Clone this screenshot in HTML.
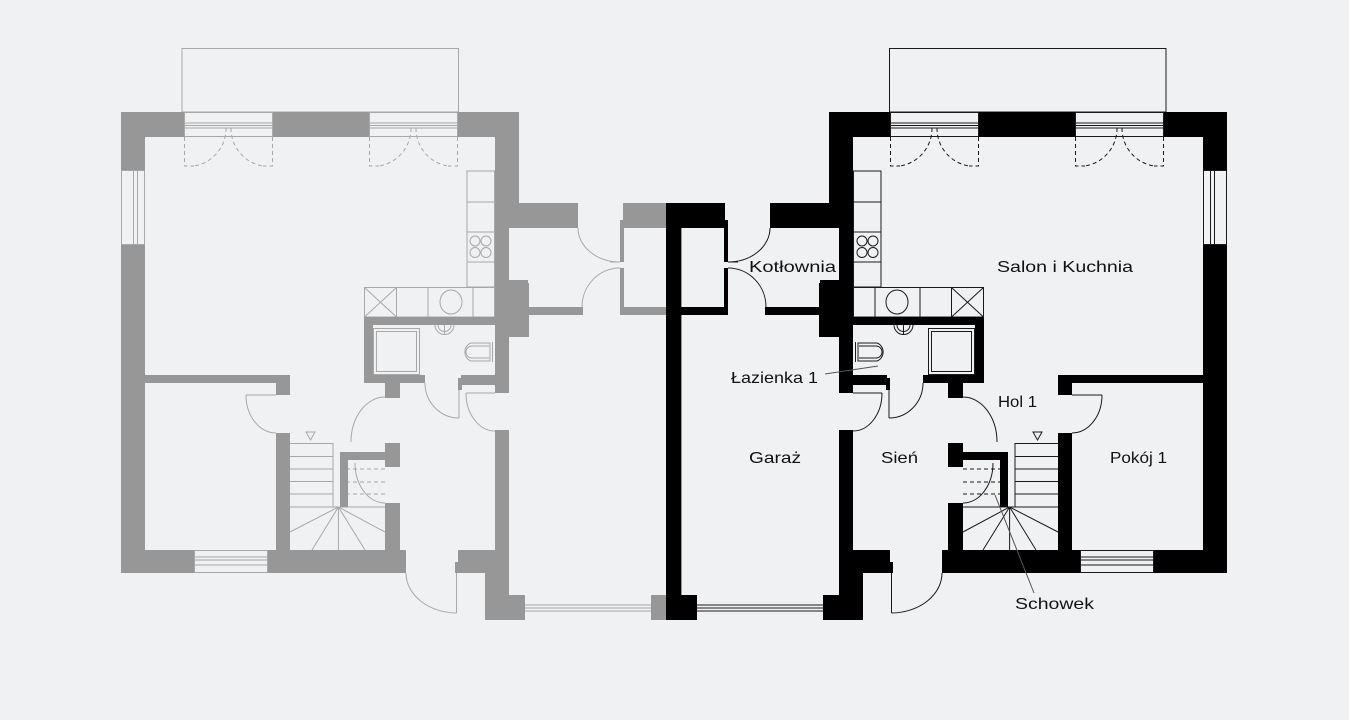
<!DOCTYPE html>
<html><head><meta charset="utf-8"><style>
html,body{margin:0;padding:0;background:#f0f1f3;}
svg{display:block}
text{font-family:"Liberation Sans",sans-serif;font-size:16px;fill:#111}
</style></head><body>
<svg width="1349" height="720" viewBox="0 0 1349 720" xmlns="http://www.w3.org/2000/svg">
<defs>
<g id="plan">
 <g fill="none" stroke="var(--ln)" stroke-width="1">
  <rect x="889.5" y="48.5" width="276.5" height="63.5"/>
  <rect x="890.5" y="112.5" width="88" height="24"/>
  <line x1="890" y1="123" x2="979" y2="123"/><line x1="890" y1="125.5" x2="979" y2="125.5"/><line x1="890" y1="128" x2="979" y2="128"/>
  <rect x="1075.5" y="112.5" width="88" height="24"/>
  <line x1="1075" y1="123" x2="1164" y2="123"/><line x1="1075" y1="125.5" x2="1164" y2="125.5"/><line x1="1075" y1="128" x2="1164" y2="128"/>
  <g stroke-dasharray="4 3">
   <path d="M890.5 137 V166 H900 M932 128 A 38 38 0 0 1 900 166"/>
   <path d="M978.5 137 V166 H969 M937 128 A 38 38 0 0 0 969 166"/>
   <path d="M1075.5 137 V166 H1085 M1117 128 A 38 38 0 0 1 1085 166"/>
   <path d="M1163.5 137 V166 H1154 M1122 128 A 38 38 0 0 0 1154 166"/>
  </g>
  <rect x="1203.5" y="170.5" width="23" height="74"/>
  <line x1="1210.5" y1="170" x2="1210.5" y2="245"/><line x1="1214.5" y1="170" x2="1214.5" y2="245"/>
  <rect x="1080.5" y="550.5" width="73" height="22"/>
  <line x1="1080" y1="557" x2="1154" y2="557"/><line x1="1080" y1="560" x2="1154" y2="560"/><line x1="1080" y1="565" x2="1154" y2="565"/>
  <line x1="697" y1="605" x2="823" y2="605"/><line x1="697" y1="608" x2="823" y2="608"/><line x1="697" y1="611" x2="823" y2="611"/>
  <rect x="853.5" y="171" width="27.5" height="116"/>
  <line x1="853" y1="202" x2="881" y2="202"/><line x1="853" y1="232" x2="881" y2="232"/><line x1="853" y1="262" x2="881" y2="262"/>
  <circle cx="862" cy="241" r="5"/><circle cx="873" cy="241" r="5"/><circle cx="862" cy="252.5" r="5"/><circle cx="873" cy="252.5" r="5"/>
  <rect x="853.5" y="287.5" width="130" height="29.5"/>
  <line x1="875" y1="287" x2="875" y2="317"/><line x1="920" y1="287" x2="920" y2="317"/><line x1="951.5" y1="287" x2="951.5" y2="317"/>
  <ellipse cx="897" cy="302" rx="11" ry="12"/>
  <path d="M951.5 287.5 L983.5 317 M983.5 287.5 L951.5 317"/>
  <rect x="928.5" y="328.5" width="46" height="46"/>
  <rect x="931.5" y="331.5" width="40" height="40"/>
  <path d="M855.5 342 V362 M858 343 H877 A9 9.5 0 0 1 877 361 H858 Z"/>
  <path d="M859 346 H876 A6 6 0 0 1 876 358 H859"/>
  <path d="M894 325 A9.5 9.5 0 0 0 913 325 M897 325 A6.5 6.5 0 0 0 910 325 M903.5 325 V335"/>
  <path d="M770 228 A42 34 0 0 1 728 262 H738"/>
  <path d="M728 268 A38 39 0 0 1 766 307"/>
  <path d="M882 393 A29 38 0 0 1 853 431 M853 393 H882"/>
  <path d="M889 418 A34 35 0 0 0 923 383 M889 390 V418"/>
  <path d="M963 397 A34 45 0 0 1 997 442"/>
  <path d="M993 463 A30 40 0 0 1 963 503"/>
  <path d="M1102 395 A30 38 0 0 1 1072 433 M1072 395 H1102"/>
  <path d="M891.5 613 A51 40 0 0 0 942 573 M891.5 573 V613"/>
  <g stroke-dasharray="4 3"><line x1="963" y1="469" x2="1000" y2="469"/><line x1="963" y1="482" x2="1000" y2="482"/><line x1="963" y1="494" x2="1000" y2="494"/></g>
  <path d="M1015 507 V443.5 H1058 M1015 456.5 H1058 M1015 469 H1058 M1015 481.5 H1058 M1015 494 H1058 M963 507 H1058"/>
  <path d="M1009.6 507 L963 532 M1009.6 507 L983 550 M1009.6 507 V550 M1009.6 507 L1036 550 M1009.6 507 L1058 532"/>
  <path d="M1033 432 H1042 L1037.5 440 Z"/>
 </g>
 <g fill="var(--wl)">
  <rect x="829" y="112" width="61" height="25"/><rect x="979" y="112" width="96" height="25"/><rect x="1164" y="112" width="63" height="25"/>
  <rect x="1203" y="112" width="24" height="58"/><rect x="1203" y="245" width="24" height="328"/>
  <rect x="829" y="112" width="24" height="116"/><rect x="839" y="203" width="14" height="190"/><rect x="819" y="283" width="20" height="54"/>
  <rect x="820" y="280" width="33" height="55"/>
  <rect x="770" y="203" width="83" height="25"/>
  <rect x="666" y="203" width="59" height="25"/><rect x="724" y="220" width="4" height="42"/><rect x="724" y="268" width="4" height="47"/>
  <rect x="666" y="203" width="15" height="417"/>
  <rect x="681" y="307" width="47" height="8"/><rect x="765" y="307" width="74" height="8"/>
  <rect x="666" y="595" width="31" height="25"/><rect x="823" y="595" width="40" height="25"/>
  <rect x="839" y="430" width="14" height="190"/>
  <rect x="853" y="317" width="131" height="8"/><rect x="975" y="317" width="9" height="66"/>
  <rect x="839" y="375" width="48" height="10"/><rect x="839" y="385" width="14" height="8"/><rect x="886" y="378" width="4" height="12"/>
  <rect x="923" y="375" width="61" height="8"/><rect x="948" y="375" width="15" height="23"/>
  <rect x="1058" y="375" width="169" height="8"/><rect x="1058" y="383" width="14" height="12"/>
  <rect x="1058" y="433" width="14" height="140"/>
  <rect x="942" y="550" width="138" height="23"/><rect x="1154" y="550" width="73" height="23"/>
  <rect x="839" y="550" width="51" height="12"/><rect x="839" y="562" width="54" height="11"/><rect x="839" y="573" width="24" height="47"/>
  <rect x="948" y="443" width="15" height="24"/><rect x="963" y="452" width="45" height="8"/><rect x="1000" y="452" width="8" height="55"/>
  <rect x="948" y="503" width="15" height="47"/>
 </g>
</g>
</defs>
<use href="#plan" transform="translate(1348,0) scale(-1,1)" style="--ln:#a8a8a8;--wl:#979797"/>
<use href="#plan" style="--ln:#1a1a1a;--wl:#000"/>
<g stroke="#555" stroke-width="1"><line x1="825" y1="374" x2="878" y2="366"/><line x1="1034" y1="593" x2="995" y2="495"/></g>
<text x="749" y="272" textLength="87" lengthAdjust="spacingAndGlyphs">Kotłownia</text>
<text x="997" y="272" textLength="136" lengthAdjust="spacingAndGlyphs">Salon i Kuchnia</text>
<text x="731" y="383" textLength="87" lengthAdjust="spacingAndGlyphs">Łazienka 1</text>
<text x="998" y="407" textLength="39" lengthAdjust="spacingAndGlyphs">Hol 1</text>
<text x="749" y="463" textLength="52" lengthAdjust="spacingAndGlyphs">Garaż</text>
<text x="881" y="463" textLength="37" lengthAdjust="spacingAndGlyphs">Sień</text>
<text x="1110" y="463" textLength="57" lengthAdjust="spacingAndGlyphs">Pokój 1</text>
<text x="1015" y="609" textLength="79" lengthAdjust="spacingAndGlyphs">Schowek</text>
</svg>
</body></html>
